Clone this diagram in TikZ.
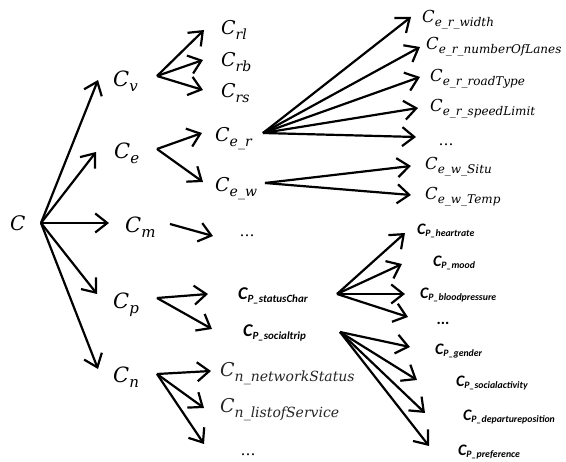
\documentclass[tikz,border=0pt]{standalone}
\usepackage{fontspec}
\newfontfamily\calfont{Carlito}
\newfontfamily\mfont{DejaVu Serif}
\usetikzlibrary{arrows.meta}
\tikzset{
  arr/.style={-{Straight Barb[length=12pt,width=19pt]}, line width=2.2pt},
  lb/.style={anchor=base west, inner sep=0pt},
  ml/.style={lb, font=\mfont\itshape},
  calA/.style={lb, font=\calfont\bfseries\itshape\fontsize{18}{20}\selectfont},
  calB/.style={lb, font=\calfont\bfseries\itshape\fontsize{16}{18}\selectfont},
  dots/.style={inner sep=0pt, font=\mfont\fontsize{15}{17}\selectfont},
}
% C with subscript: #1 size of C, #2 size of subscript, #3 drop, #4 text
\newcommand\CC[4]{{\fontsize{#1}{#1}\selectfont C}\raisebox{-#3}{\fontsize{#2}{#2}\selectfont #4}}
\newcommand\subA[1]{\raisebox{-2.5pt}{\fontsize{11}{12}\selectfont #1}}
\newcommand\subB[1]{\raisebox{-2pt}{\fontsize{9.8}{11}\selectfont #1}}
\begin{document}
\begin{tikzpicture}[x=1pt,y=-1pt]
\useasboundingbox (0,0) rectangle (566,462);
% level 0 / 1 labels
\node[ml, font=\mfont\itshape\fontsize{20}{22}\selectfont] (C) at (10,231) {C};
\node[ml] (Cv) at (113,87) {\CC{21}{15}{5pt}{v}};
\node[ml] (Ce) at (114,159) {\CC{21}{15}{5pt}{e}};
\node[ml] (Cm) at (125,233) {\CC{21}{15}{5pt}{m}};
\node[ml] (Cp) at (113,309) {\CC{21}{15}{5pt}{p}};
\node[ml] (Cn) at (113,383) {\CC{21}{15}{5pt}{n}};
% level 2
\node[ml] (Crl) at (221,35) {\CC{19}{14}{4.5pt}{rl}};
\node[ml] (Crb) at (221,67) {\CC{19}{14}{4.5pt}{rb}};
\node[ml] (Crs) at (221,98) {\CC{19}{14}{4.5pt}{rs}};
\node[ml] (Cer) at (215,142) {\CC{19}{14}{4.5pt}{e\_r}};
\node[ml] (Cew) at (215,192) {\CC{19}{14}{4.5pt}{e\_w}};
\node[dots] (mdots) at (247,236) {…};
\node[calA] (Pst) at (238,300) {C\subA{P\_statusChar}};
\node[calA] (Pso) at (243,337) {C\subA{P\_socialtrip}};
\begin{scope}[black!85]
\node[ml] (Cnn) at (220,377) {\CC{19}{14}{4.5pt}{n\_networkStatus}};
\node[ml] (Cnl) at (220,413) {\CC{19}{14}{4.5pt}{n\_listofService}};
\end{scope}
\node[dots] (ndots) at (248,455) {…};
% level 3
\node[ml] (Cw) at (422,23) {\CC{16.5}{12}{4pt}{e\_r\_width}};
\node[ml] (Cnl2) at (426,50) {\CC{16.5}{12}{4pt}{e\_r\_numberOfLanes}};
\node[ml] (Crt) at (430,82) {\CC{16.5}{12}{4pt}{e\_r\_roadType}};
\node[ml] (Csl) at (430,112) {\CC{16.5}{12}{4pt}{e\_r\_speedLimit}};
\node[dots] (rdots) at (446,145) {…};
\node[ml] (Csi) at (425,170) {\CC{16.5}{12}{4pt}{e\_w\_Situ}};
\node[ml] (Cte) at (425,200) {\CC{16.5}{12}{4pt}{e\_w\_Temp}};
\node[calB] (Phr) at (417,235) {C\subB{P\_heartrate}};
\node[calB] (Pmo) at (433,267) {C\subB{P\_mood}};
\node[calB] (Pbp) at (420,299) {C\subB{P\_bloodpressure}};
\node[dots, font=\calfont\bfseries\fontsize{16}{18}\selectfont] (pdots) at (443,323) {...};
\node[calB] (Pge) at (435,355) {C\subB{P\_gender}};
\node[calB] (Psa) at (456,387) {C\subB{P\_socialactivity}};
\node[calB] (Pdp) at (463,421) {C\subB{P\_departureposition}};
\node[calB] (Ppr) at (458,456) {C\subB{P\_preference}};
% hubs
\coordinate (hC) at (41,223);
\coordinate (hCv) at (157,76);
\coordinate (hCe) at (157,149);
\coordinate (hCm) at (170,224);
\coordinate (hCp) at (157,298);
\coordinate (hCn) at (157,374);
\coordinate (hCer) at (263,133);
\coordinate (hCew) at (265,183);
\coordinate (hPst) at (337,294);
\coordinate (hPso) at (340,332);
% tips
\coordinate (tCv) at (98,80);
\coordinate (tCe) at (96,152);
\coordinate (tCm) at (109,223);
\coordinate (tCp) at (97,294);
\coordinate (tCn) at (98,369);
\coordinate (tCrl) at (204,30);
\coordinate (tCrb) at (203,60);
\coordinate (tCrs) at (203,90);
\coordinate (tCer) at (202,133);
\coordinate (tCew) at (203,182);
\coordinate (tmd) at (213,236);
\coordinate (tPst) at (208,294);
\coordinate (tPso) at (212,329);
\coordinate (tCnn) at (211,371);
\coordinate (tCnl) at (204,408);
\coordinate (tnd) at (204,444);
\coordinate (tCw) at (411,17);
\coordinate (tCnl2) at (420,47);
\coordinate (tCrt) at (420,77);
\coordinate (tCsl) at (418,108);
\coordinate (trd) at (416,137);
\coordinate (tCsi) at (411,166);
\coordinate (tCte) at (411,195);
\coordinate (tPhr) at (405,233);
\coordinate (tPmo) at (402,264);
\coordinate (tPbp) at (405,294);
\coordinate (tpd) at (408,317);
\coordinate (tPge) at (410,347);
\coordinate (tPsa) at (417,380);
\coordinate (tPdp) at (425,413);
\coordinate (tPpr) at (429,446);
% arrows
\foreach \t in {tCv,tCe,tCm,tCp,tCn} \draw[arr] (hC) -- (\t);
\foreach \t in {tCrl,tCrb,tCrs} \draw[arr] (hCv) -- (\t);
\foreach \t in {tCer,tCew} \draw[arr] (hCe) -- (\t);
\draw[arr] (hCm) -- (tmd);
\foreach \t in {tPst,tPso} \draw[arr] (hCp) -- (\t);
\foreach \t in {tCnn,tCnl,tnd} \draw[arr] (hCn) -- (\t);
\foreach \t in {tCw,tCnl2,tCrt,tCsl,trd} \draw[arr] (hCer) -- (\t);
\foreach \t in {tCsi,tCte} \draw[arr] (hCew) -- (\t);
\foreach \t in {tPhr,tPmo,tPbp,tpd} \draw[arr] (hPst) -- (\t);
\foreach \t in {tPge,tPsa,tPdp,tPpr} \draw[arr] (hPso) -- (\t);
\end{tikzpicture}
\end{document}
